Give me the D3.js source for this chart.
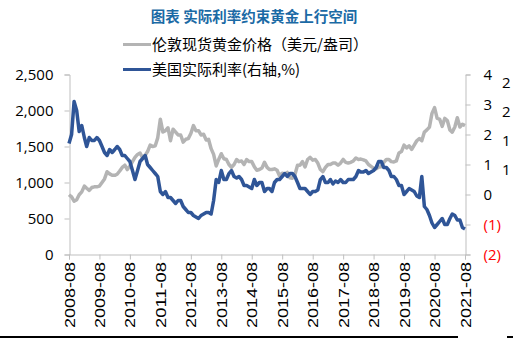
<!DOCTYPE html>
<html>
<head>
<meta charset="utf-8">
<script src="https://cdn.jsdelivr.net/npm/d3@7"></script>
<style>
  body { margin: 0; background: #fff; }
  svg { display: block; }
</style>
</head>
<body>
<svg id="chart" width="513" height="350"></svg>
<script>
// 2008-08 .. 2021-08, monthly
var startMonth = "2008-08";
var endMonth = "2021-08";
var yearTicks = ["2008-08", "2009-08", "2010-08", "2011-08", "2012-08", "2013-08", "2014-08",
    "2015-08", "2016-08", "2017-08", "2018-08", "2019-08", "2020-08", "2021-08"];

// 伦敦现货黄金价格 (美元/盎司)
var goldPrice = [
    830, 800, 740, 760, 830,
    870, 950, 920, 890, 930, 940, 940, 950, 1000, 1050, 1150, 1120,
    1100, 1100, 1115, 1160, 1210, 1240, 1180, 1230, 1290, 1350, 1390, 1410,
    1340, 1380, 1430, 1520, 1500, 1510, 1620, 1880, 1700, 1720, 1760, 1580,
    1740, 1700, 1660, 1660, 1560, 1600, 1610, 1680, 1790, 1720, 1720, 1660,
    1670, 1590, 1600, 1470, 1390, 1230, 1320, 1400, 1330, 1320, 1250, 1210,
    1250, 1320, 1290, 1300, 1250, 1320, 1290, 1290, 1220, 1170, 1180, 1200,
    1280, 1210, 1180, 1180, 1190, 1170, 1090, 1130, 1120, 1140, 1065, 1060,
    1110, 1240, 1240, 1290, 1215, 1320, 1350, 1310, 1320, 1270, 1180, 1150,
    1210, 1250, 1250, 1270, 1270, 1240, 1270, 1320, 1280, 1270, 1280, 1300,
    1340, 1320, 1325, 1315, 1300, 1250, 1225, 1200, 1190, 1215, 1220, 1280,
    1320, 1320, 1290, 1285, 1300, 1410, 1430, 1520, 1480, 1510, 1460, 1520,
    1580, 1610, 1580, 1700, 1730, 1770, 1960, 2040, 1890, 1880, 1780, 1890,
    1860, 1730, 1700, 1770, 1900, 1770, 1810, 1790
];

// 美国实际利率 (右轴, %)
var realRate = [
    1.7, 2.0, 3.1, 2.8, 2.1,
    2.3, 1.9, 1.6, 1.9, 1.8, 1.8, 1.9, 1.8, 1.6, 1.4, 1.3, 1.5,
    1.4, 1.5, 1.6, 1.5, 1.3, 1.3, 1.2, 1.1, 0.8, 0.5, 0.8, 1.1,
    1.2, 1.3, 1.0, 0.9, 0.8, 0.7, 0.6, 0.1, 0.0, 0.1, -0.1, -0.1,
    -0.2, -0.3, -0.2, -0.2, -0.4, -0.5, -0.6, -0.6, -0.7, -0.75, -0.8, -0.7,
    -0.65, -0.6, -0.6, -0.65, -0.2, 0.5, 0.4, 0.8, 0.5, 0.5, 0.7, 0.8,
    0.6, 0.55, 0.6, 0.5, 0.3, 0.3, 0.25, 0.2, 0.5, 0.3, 0.4, 0.4,
    0.1, 0.2, 0.2, 0.1, 0.4, 0.5, 0.5, 0.6, 0.7, 0.6, 0.7, 0.7,
    0.6, 0.4, 0.2, 0.2, 0.2, 0.1, 0.0, 0.1, 0.1, 0.15, 0.5, 0.6,
    0.4, 0.4, 0.5, 0.35, 0.45, 0.4, 0.5, 0.4, 0.4, 0.5, 0.5, 0.5,
    0.6, 0.8, 0.75, 0.75, 0.8, 0.7, 0.75, 0.8, 0.9, 1.1, 1.1, 0.9,
    0.9, 0.8, 0.6, 0.6, 0.5, 0.3, 0.3, 0.0, 0.1, 0.2, 0.15, 0.1,
    -0.05, -0.1, 0.6, -0.4, -0.5, -0.7, -0.95, -1.1, -1.0, -0.9, -0.8, -1.0,
    -1.0, -0.8, -0.65, -0.7, -0.85, -0.85, -1.1, -1.15
];

var leftTicks = [0, 500, 1000, 1500, 2000, 2500];
var rightTicks = [-2, -1, 0, 1, 2, 3, 4];

var title = "图表 实际利率约束黄金上行空间";
var seriesNames = ["伦敦现货黄金价格（美元/盎司）", "美国实际利率(右轴,%)"];
var seriesColors = ["#b4b4b4", "#2f5597"];

var parseMonth = d3.timeParse("%Y-%m");
var months = d3.timeMonth.range(parseMonth(startMonth), d3.timeMonth.offset(parseMonth(endMonth), 1));

var svg = d3.select("#chart");
svg.append("rect").attr("width", 513).attr("height", 350).attr("fill", "#fff");

var xScale = d3.scaleTime()
    .domain([parseMonth(startMonth), parseMonth(endMonth)])
    .range([69, 465]);

var yLeft = d3.scaleLinear().domain([0, 2500]).range([254.5, 74.5]);
var yRight = d3.scaleLinear().domain([-2, 4]).range([254.5, 74.5]);

// 标题
svg.append("text")
    .attr("x", 254)
    .attr("y", 22)
    .attr("text-anchor", "middle")
    .attr("font-family", "Noto Sans CJK SC")
    .attr("font-weight", "bold")
    .attr("font-size", 14.5)
    .attr("fill", "#1b6aa5")
    .text(title);

// axes
var axisColor = "#bfbfbf";

var gLeft = svg.append("g")
    .attr("transform", "translate(69.5,0)")
    .call(d3.axisLeft(yLeft).tickValues(leftTicks).tickSize(5).tickPadding(11).tickFormat(d3.format(",")));

var gRight = svg.append("g")
    .attr("transform", "translate(465.5,0)")
    .call(d3.axisRight(yRight).tickValues(rightTicks).tickSize(5).tickPadding(13)
        .tickFormat(function(d) { return d < 0 ? "(" + (-d) + ")" : d; }));

var gBottom = svg.append("g")
    .attr("transform", "translate(0,254.5)")
    .call(d3.axisBottom(xScale).tickValues(yearTicks.map(parseMonth)).tickSize(5).tickFormat(""));

[gLeft, gRight, gBottom].forEach(function(g) {
    g.select(".domain").attr("stroke", axisColor);
    g.selectAll(".tick line").attr("stroke", axisColor);
});

gLeft.selectAll("text")
    .attr("font-family", "Open Sans")
    .attr("font-size", 15)
    .attr("fill", "#000");

gRight.selectAll("text")
    .attr("font-family", "Open Sans")
    .attr("font-size", 15)
    .attr("fill", function(d) { return d < 0 ? "#ff0000" : "#000"; });

// x labels, rotated
svg.append("g").selectAll("text")
    .data(yearTicks)
    .enter()
    .append("text")
    .attr("transform", function(d) { return "translate(" + (xScale(parseMonth(d)) + 5.5) + ",262) rotate(-90)"; })
    .attr("text-anchor", "end")
    .attr("font-family", "Liberation Sans")
    .attr("font-size", 14)
    .attr("textLength", 66)
    .attr("lengthAdjust", "spacingAndGlyphs")
    .attr("fill", "#000")
    .text(function(d) { return d; });

// 折线
var goldLine = d3.line()
    .x(function(d, i) { return xScale(months[i]); })
    .y(function(d) { return yLeft(d); });

var rateLine = d3.line()
    .x(function(d, i) { return xScale(months[i]); })
    .y(function(d) { return yRight(d); });

svg.append("path")
    .datum(goldPrice)
    .attr("fill", "none")
    .attr("stroke", seriesColors[0])
    .attr("stroke-width", 3.5)
    .attr("stroke-linejoin", "round")
    .attr("d", goldLine);

svg.append("path")
    .datum(realRate)
    .attr("fill", "none")
    .attr("stroke", seriesColors[1])
    .attr("stroke-width", 3.5)
    .attr("stroke-linejoin", "round")
    .attr("d", rateLine);

// legend
var legend = svg.append("g").attr("transform", "translate(123,0)");
var legendItems = legend.selectAll(".legend-item")
    .data(seriesNames)
    .enter()
    .append("g")
    .attr("class", "legend-item")
    .attr("transform", function(d, i) { return "translate(0," + (44.5 + i * 25) + ")"; });

legendItems.append("line")
    .attr("x1", 0).attr("x2", 28)
    .attr("stroke", function(d, i) { return seriesColors[i]; })
    .attr("stroke-width", 3);

legendItems.append("text")
    .attr("x", 29)
    .attr("y", 5)
    .attr("font-family", "Noto Sans CJK SC")
    .attr("font-size", 15)
    .attr("fill", "#000")
    .text(function(d) { return d; });

// bits of the neighbouring chart cut off at the right edge
svg.append("g").selectAll("text")
    .data(["2", "2", "1", "1"])
    .enter()
    .append("text")
    .attr("x", 502)
    .attr("y", function(d, i) { return 88 + i * 29; })
    .attr("font-family", "Open Sans")
    .attr("font-size", 15)
    .attr("fill", "#000")
    .text(function(d) { return d; });

// frame bottom
svg.append("line").attr("x1", 0).attr("x2", 458).attr("y1", 337).attr("y2", 337)
    .attr("stroke", "#000").attr("stroke-width", 2);
svg.append("line").attr("x1", 507).attr("x2", 513).attr("y1", 337).attr("y2", 337)
    .attr("stroke", "#000").attr("stroke-width", 2);
</script>
</body>
</html>
